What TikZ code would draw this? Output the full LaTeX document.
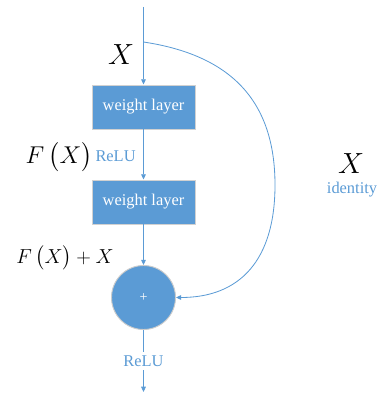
\documentclass[tikz,border=0pt]{standalone}
\usepackage{fontspec}
\setmainfont{Liberation Serif}
\usepackage{amsmath}
\usetikzlibrary{arrows.meta}
\definecolor{resblue}{RGB}{91,155,213}

\begin{document}
\begin{tikzpicture}[x=0.03cm,y=-0.03cm,
    layer/.style={fill=resblue, draw=black!18, line width=.8pt, text=white,
        minimum width=30.9mm, minimum height=13.2mm, inner sep=0pt,
        font=\fontsize{14}{16}\selectfont},
    sum/.style={circle, fill=resblue, draw=black!20, line width=.8pt, text=white,
        minimum size=19.2mm, inner sep=0pt, font=\fontsize{12}{14}\selectfont},
    flow/.style={draw=resblue, line width=.7pt, -{Triangle[length=4.5pt,width=4pt]}},
    relu/.style={text=resblue, inner sep=1pt, font=\fontsize{14}{16}\selectfont},
    bigx/.style={inner sep=0pt, font=\fontsize{27}{30}\selectfont},
    fx/.style={inner sep=0pt, font=\fontsize{20}{24}\selectfont}]
    \useasboundingbox (0,0) rectangle (378,394);
    % main path
    \coordinate (in) at (143.5,7);
    \coordinate (split) at (143.5,42);
    \coordinate (out) at (143.5,392);
    \node[layer] (w1) at (143.5,107) {weight layer};
    \node[layer] (w2) at (143.5,202) {weight layer};
    \node[sum] (add) at (143.5,297.5) {+};
    \draw[flow] (in) -- (w1);
    \draw[flow] (w1) -- (w2);
    \draw[flow] (w2) -- (add);
    \draw[flow] (add) -- node[relu, fill=white, inner ysep=3pt] (r2) {ReLU} (out);
    % shortcut
    \draw[flow] (split) .. controls (230,55) and (275,100) .. (275,185)
        .. controls (275,260) and (240,297.5) .. (add.east);
    % labels
    \node[bigx] (xin) at (121,55) {$X$};
    \node[fx] (fx) at (59,157) {$F\,\bigl(X\bigr)$};
    \node[relu, anchor=east] (r1) at (137,156) {ReLU};
    \node[fx, font=\fontsize{17}{20}\selectfont] (fxx) at (65,258) {$F\,\bigl(X\bigr) + X$};
    \node[bigx] (xid) at (351,164) {$X$};
    \node[relu] (id) at (352,190) {identity};
\end{tikzpicture}
\end{document}
